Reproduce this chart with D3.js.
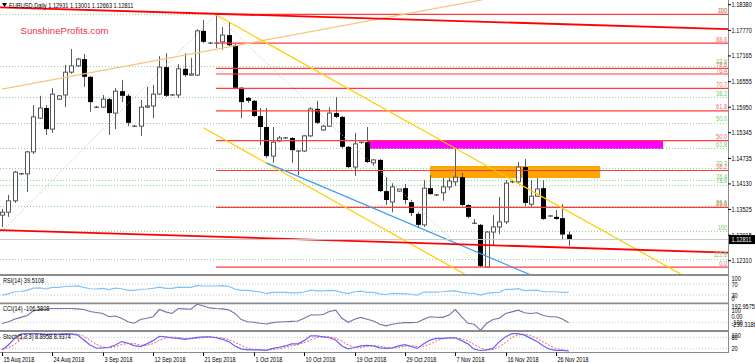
<!DOCTYPE html>
<html>
<head>
<meta charset="utf-8">
<script src="https://cdn.jsdelivr.net/npm/d3@7"></script>
<style>
  body { margin: 0; background: #fff; }
  svg { display: block; font-family: 'Liberation Sans', Arial, sans-serif; }
</style>
</head>
<body>
<svg width="755" height="363"></svg>
<script>
// daily bars, 15 Aug 2018 (bar 0) .. 28 Nov 2018 (bar 90), sunday bars included
const opens = [1.1339,1.1346,1.1373,1.1437,1.1437,1.1489,1.1569,1.1593,1.1543,1.1614,
  1.1624,1.1678,1.1693,1.1709,1.1667,1.1595,1.1595,1.1614,1.1581,1.1633,
  1.1622,1.1550,1.1550,1.1595,1.1598,1.1626,1.1690,1.1624,1.1624,1.1686,
  1.1671,1.1671,1.1776,1.1747,1.1747,1.1750,1.1766,1.1742,1.1641,1.1617,
  1.1610,1.1574,1.1548,1.1479,1.1515,1.1522,1.1522,1.1491,1.1491,1.1527,
  1.1591,1.1541,1.1550,1.1581,1.1572,1.1501,1.1453,1.1510,1.1512,1.1463,
  1.1470,1.1396,1.1370,1.1396,1.1403,1.1370,1.1342,1.1316,1.1403,1.1387,
  1.1392,1.1406,1.1418,1.1429,1.1363,1.1320,1.1316,1.1216,1.1299,1.1311,
  1.1323,1.1418,1.1418,1.1453,1.1365,1.1384,1.1403,1.1337,1.1335,1.1332,1.12931]
const highs = [1.1354,1.1387,1.1444,1.1439,1.1491,1.1600,1.1622,1.1600,1.1640,1.1624,
  1.1695,1.1733,1.1712,1.1721,1.1669,1.1598,1.1624,1.1617,1.1640,1.1659,
  1.1626,1.1553,1.1612,1.1643,1.1648,1.1716,1.1723,1.1626,1.1697,1.1723,
  1.1712,1.1780,1.1802,1.1750,1.1816,1.1785,1.1797,1.1745,1.1643,1.1619,
  1.1612,1.1593,1.1593,1.1548,1.1527,1.1524,1.1524,1.1493,1.1529,1.1595,
  1.1610,1.1553,1.1595,1.1619,1.1574,1.1503,1.1534,1.1512,1.1548,1.1472,
  1.1472,1.1429,1.1415,1.1401,1.1413,1.1375,1.1346,1.1422,1.1434,1.1389,
  1.1427,1.1427,1.1498,1.1439,1.1365,1.1330,1.1318,1.1301,1.1339,1.1382,
  1.1422,1.1420,1.1465,1.1472,1.1422,1.1427,1.1422,1.1339,1.1351,1.1365,1.13001]
const lows = [1.1311,1.1335,1.1368,1.1434,1.1394,1.1484,1.1567,1.1529,1.1534,1.1612,
  1.1595,1.1674,1.1690,1.1643,1.1584,1.1593,1.1593,1.1529,1.1543,1.1607,
  1.1550,1.1548,1.1527,1.1593,1.1569,1.1624,1.1619,1.1622,1.1617,1.1667,
  1.1669,1.1669,1.1747,1.1745,1.1735,1.1731,1.1740,1.1638,1.1569,1.1605,
  1.1572,1.1505,1.1475,1.1463,1.1512,1.1520,1.1463,1.1434,1.1489,1.1524,
  1.1555,1.1539,1.1548,1.1569,1.1498,1.1451,1.1432,1.1508,1.1463,1.1456,
  1.1394,1.1363,1.1346,1.1394,1.1365,1.1337,1.1309,1.1311,1.1387,1.1384,
  1.1373,1.1399,1.1408,1.1361,1.1332,1.1318,1.1216,1.1215,1.1268,1.1294,
  1.1318,1.1415,1.1415,1.1361,1.1358,1.1382,1.1328,1.1335,1.1328,1.1280,1.12663]
const closes = [1.1346,1.1373,1.1441,1.1437,1.1489,1.1572,1.1593,1.1543,1.1626,1.1622,
  1.1678,1.1693,1.1709,1.1667,1.1607,1.1595,1.1614,1.1581,1.1633,1.1622,
  1.1558,1.1550,1.1595,1.1598,1.1626,1.1690,1.1622,1.1624,1.1686,1.1671,
  1.1674,1.1776,1.1750,1.1747,1.1745,1.1766,1.1742,1.1641,1.1607,1.1610,
  1.1574,1.1548,1.1479,1.1512,1.1522,1.1522,1.1493,1.1490,1.1527,1.1591,
  1.1558,1.1550,1.1581,1.1572,1.1501,1.1453,1.1508,1.1512,1.1465,1.1470,
  1.1396,1.1375,1.1406,1.1401,1.1375,1.1344,1.1316,1.1403,1.1389,1.1387,
  1.1406,1.1420,1.1429,1.1363,1.1335,1.1320,1.1218,1.1299,1.1311,1.1323,
  1.1415,1.1418,1.1453,1.1368,1.1384,1.1401,1.1330,1.1337,1.1330,1.1293,1.12811]

const rsiValues = [30,34,42,43,48,55,56,52,58,58,61,62,63,58,53,52,54,50,55,53,
  47,47,51,52,54,59,54,54,59,58,58,65,63,63,63,64,62,52,47,47,
  44,41,35,40,40,40,38,38,41,48,45,45,47,46,40,35,42,44,40,40,
  34,32,36,35,34,33,30,41,41,41,42,44,45,40,37,36,30,36,39,40,
  51,51,53,46,47,48,42,42,42,40,39.5108]
const cciValues = [-120,-90,-50,-20,10,86,108,113,124,124,124,124,118,108,75,60,44,-9,2,-35,
  -90,-116,-55,-35,-9,108,70,44,124,118,113,192.9575,166,134,124,118,102,44,-55,-90,
  -100,-116,-127,-106,-95,-90,-85,-80,-35,18,18,28,75,97,-35,-100,-50,-20,-50,-80,
  -132,-158,-132,-116,-106,-106,-100,-50,-9,-19,-20,18,108,-9,-116,-132,-230.3186,-116,-55,-35,
  44,70,97,55,44,55,10,-9,-9,-47,-106.5808]
const stochMain = [14,40,75,97,100,100,99,95,97,97,99,99,92,66,40,23,25,28,40,58,
  49,37,32,46,63,86,83,78,75,70,75,80,83,83,78,70,58,35,20,14,
  14,14,12,22,28,35,46,46,63,88,88,83,78,66,35,20,27,35,38,35,
  25,22,25,35,42,32,22,46,66,75,75,78,78,63,46,18,11,14,22,58,
  83,100,100,92,75,58,35,18,12,12,8.8958]
const stochSignal = [20,25,43,70,90,99,100,98,97,96,97,98,97,86,66,43,29,25,31,42,
  49,48,39,38,47,65,77,82,79,74,73,75,79,82,81,77,69,54,38,23,
  16,14,13,16,21,28,36,42,52,66,80,86,83,76,60,40,27,27,33,36,
  33,27,24,27,34,36,32,33,45,62,72,76,77,73,62,42,25,14,16,31,
  54,80,94,97,89,75,56,37,22,14,8.9374]

const dateLabels = ['15 Aug 2018','24 Aug 2018','3 Sep 2018','12 Sep 2018','21 Sep 2018','1 Oct 2018',
  '10 Oct 2018','19 Oct 2018','29 Oct 2018','7 Nov 2018','16 Nov 2018','26 Nov 2018']
const dateBars = [0,8,16,24,32,40,48,56,64,72,80,88]
const priceTicks = [1.18380,1.17770,1.17165,1.16555,1.15950,1.15345,1.14735,1.14130,1.13525,1.12915,1.12310]

const redFibLevels = [0,23.6,38.2,50,61.8,70.7,76.4,78.6,88.6,100]
const greenFibLevels = [0,23.6,38.2,50,61.8,70.7,76.4,78.6,88.6,100,112.8]

const svg = d3.select('svg')
const W = 728

const x = d3.scaleLinear().domain([0, 88]).range([2, 556])
const y = d3.scaleLinear().domain([1.12310, 1.18380]).range([260.7, 4.7])
const yRsi = d3.scaleLinear().domain([0, 100]).range([303.3, 275.8])
const yCci = d3.scaleLinear().domain([-230.3186, 192.9575]).range([330.3, 304.3])
const yStoch = d3.scaleLinear().domain([0, 100]).range([352.6, 333.6])

function narrow(sel, k) {
  sel.each(function () {
    const w = this.getComputedTextLength()
    if (w > 0) d3.select(this).attr('textLength', w * k).attr('lengthAdjust', 'spacingAndGlyphs')
  })
}

const defs = svg.append('defs')
const clips = [['clipMain', 0, 0, W, 274], ['clipRsi', 0, 276, W, 27], ['clipCci', 0, 304, W, 26.5], ['clipSto', 0, 332, W, 20.5]]
clips.forEach(c => defs.append('clipPath').attr('id', c[0]).append('rect')
  .attr('x', c[1]).attr('y', c[2]).attr('width', c[3]).attr('height', c[4]))

const main = svg.append('g').attr('clip-path', 'url(#clipMain)')

// background rectangles
const rects = [
  { b0: 58, b1: 105, p0: 1.1515, p1: 1.1496, color: '#ff00ff' },
  { b0: 68, b1: 95, p0: 1.14555, p1: 1.14271, color: '#ffa500' }
]
main.selectAll('rect.zone').data(rects).join('rect')
  .attr('class', 'zone')
  .attr('x', d => x(d.b0)).attr('width', d => x(d.b1) - x(d.b0))
  .attr('y', d => y(d.p0)).attr('height', d => y(d.p1) - y(d.p0))
  .attr('fill', d => d.color)

// green fibonacci (dotted, full width)
const gHigh = 1.1815, gLow = 1.1301
const gPrice = l => gHigh - l / 100 * (gHigh - gLow)
main.selectAll('line.gfib').data(greenFibLevels).join('line')
  .attr('x1', 0).attr('x2', W)
  .attr('y1', d => Math.round(y(gPrice(d))) + 0.5).attr('y2', d => Math.round(y(gPrice(d))) + 0.5)
  .attr('stroke', '#8fd88f').attr('stroke-dasharray', '1,2')

// red fibonacci
const rHigh = 1.1815, rLow = 1.1216
const rPrice = l => rLow + l / 100 * (rHigh - rLow)
const fibStart = 34

// candles
const bars = d3.range(closes.length).map(i => ({ i, o: opens[i], h: highs[i], l: lows[i], c: closes[i] }))
const cg = main.append('g')
bars.forEach(d => {
  const cx = Math.round(x(d.i)) + 0.5
  cg.append('line').attr('x1', cx).attr('x2', cx).attr('y1', y(d.h)).attr('y2', y(d.l))
    .attr('stroke', '#5a5a5a')
  const top = y(Math.max(d.o, d.c)), bot = y(Math.min(d.o, d.c))
  if (bot - top < 1) {
    cg.append('line').attr('x1', cx - 2.5).attr('x2', cx + 2.5).attr('y1', top).attr('y2', top)
      .attr('stroke', '#333')
  } else if (d.c >= d.o) {
    cg.append('rect').attr('x', cx - 2).attr('width', 4).attr('y', top).attr('height', bot - top)
      .attr('fill', '#fff').attr('stroke', '#555')
  } else {
    cg.append('rect').attr('x', cx - 2.5).attr('width', 5).attr('y', top).attr('height', bot - top)
      .attr('fill', '#000')
  }
})

main.selectAll('line.rfib').data(redFibLevels).join('line')
  .attr('x1', x(fibStart)).attr('x2', W)
  .attr('y1', d => y(rPrice(d))).attr('y2', d => y(rPrice(d)))
  .attr('stroke', '#ff3b3b').attr('stroke-width', 1.2)

// trend lines: [bar, price] pairs, ray extends to the right
function drawLine(a, b, opts) {
  let end = b
  if (opts.ray) {
    const k = (b[1] - a[1]) / (b[0] - a[0])
    end = [140, a[1] + k * (140 - a[0])]
  }
  main.append('line')
    .attr('x1', x(a[0])).attr('y1', y(a[1])).attr('x2', x(end[0])).attr('y2', y(end[1]))
    .attr('stroke', opts.color).attr('stroke-width', opts.width || 1)
    .attr('stroke-dasharray', opts.dash || null)
}
drawLine([0, 1.1301], [34, 1.1814], { color: '#b8b8b8', dash: '1,2' })
drawLine([34, 1.1814], [76, 1.1216], { color: '#b8b8b8', dash: '1,2' })
drawLine([0, 1.1638], [40, 1.1749], { color: '#f8c47e', width: 1.2, ray: true })
drawLine([34, 1.1814], [101, 1.1256], { color: '#ffcc00', width: 1.2, ray: true })
drawLine([32, 1.1546], [68, 1.1245], { color: '#ffcc00', width: 1.2, ray: true })
drawLine([42, 1.1463], [83.4, 1.1201], { color: '#3d9bf0', width: 1.2, ray: true })
drawLine([-1, 1.1832], [116, 1.1780], { color: '#ff0000', width: 1.8 })
drawLine([-1, 1.1304], [116, 1.1250], { color: '#ff0000', width: 1.8 })

// bid line
main.append('line').attr('x1', 0).attr('x2', W)
  .attr('y1', y(closes[closes.length - 1])).attr('y2', y(closes[closes.length - 1]))
  .attr('stroke', '#c8c8c8')

// fib labels
const fibLabels = svg.append('g').attr('font-size', 7).attr('text-anchor', 'end')
fibLabels.selectAll('text.g').data(greenFibLevels).join('text')
  .attr('x', 727).attr('y', d => y(gPrice(d)) - 1.5)
  .attr('fill', '#6fcf6f').text(d => d.toFixed(1).replace(/\.0$/, d === 0 || d === 50 ? '.0' : ''))
  .call(narrow, 0.8)
fibLabels.selectAll('text.r').data(redFibLevels).join('text')
  .attr('x', 727).attr('y', d => y(rPrice(d)) - 1.5)
  .attr('fill', '#f46a6a').text(d => d.toFixed(1).replace(/\.0$/, d === 0 || d === 50 ? '.0' : ''))
  .call(narrow, 0.8)

// texts
svg.append('path').attr('d', 'M2,3 L7,3 L4.5,7 Z').attr('fill', '#000')
svg.append('text').attr('x', 9).attr('y', 8).attr('font-size', 7).attr('fill', '#000')
  .text('EURUSD,Daily  1.12931 1.13001 1.12663 1.12811').call(narrow, 0.8)
svg.append('text').attr('x', 20.5).attr('y', 33.5).attr('font-size', 9.6).attr('fill', '#e8334f')
  .text('SunshineProfits.com')

// indicator panels
const rsiG = svg.append('g').attr('clip-path', 'url(#clipRsi)')
;[70, 30].forEach(v => rsiG.append('line').attr('x1', 0).attr('x2', W)
  .attr('y1', yRsi(v)).attr('y2', yRsi(v)).attr('stroke', '#c8c8c8').attr('stroke-dasharray', '1,2'))
rsiG.append('path').datum(rsiValues)
  .attr('d', d3.line().x((d, i) => x(i)).y(d => yRsi(d)))
  .attr('fill', 'none').attr('stroke', '#84c1f5').attr('stroke-width', 1.2)

const cciG = svg.append('g').attr('clip-path', 'url(#clipCci)')
;[100, -100].forEach(v => cciG.append('line').attr('x1', 0).attr('x2', W)
  .attr('y1', yCci(v)).attr('y2', yCci(v)).attr('stroke', '#c8c8c8').attr('stroke-dasharray', '1,2'))
cciG.append('path').datum(cciValues)
  .attr('d', d3.line().x((d, i) => x(i)).y(d => yCci(d)))
  .attr('fill', 'none').attr('stroke', '#7474a8').attr('stroke-width', 1.1)

const stoG = svg.append('g').attr('clip-path', 'url(#clipSto)')
;[80, 20].forEach(v => stoG.append('line').attr('x1', 0).attr('x2', W)
  .attr('y1', yStoch(v)).attr('y2', yStoch(v)).attr('stroke', '#c8c8c8').attr('stroke-dasharray', '1,2'))
stoG.append('path').datum(stochSignal)
  .attr('d', d3.line().x((d, i) => x(i)).y(d => yStoch(d)))
  .attr('fill', 'none').attr('stroke', '#ff5a5a').attr('stroke-dasharray', '2,1.5')
stoG.append('path').datum(stochMain)
  .attr('d', d3.line().x((d, i) => x(i)).y(d => yStoch(d)))
  .attr('fill', 'none').attr('stroke', '#6464ff').attr('stroke-width', 1.2)

const indLabels = [
  ['RSI(14) 39.5108', 283],
  ['CCI(14) -106.5808', 311],
  ['Stoch(5,3,3) 8.8958 8.9374', 338.5]
]
indLabels.forEach(t => svg.append('text').attr('x', 3).attr('y', t[1]).attr('font-size', 7)
  .attr('fill', '#000').text(t[0]).call(narrow, 0.8))

// frames
const frame = svg.append('g').attr('stroke', '#8c8c8c')
;[275, 303.3, 331].forEach(v => frame.append('line').attr('x1', 0).attr('x2', W)
  .attr('y1', v).attr('y2', v).attr('stroke-width', 1.8))
frame.append('line').attr('x1', 0).attr('x2', W).attr('y1', 352.5).attr('y2', 352.5)
frame.append('line').attr('x1', W + 0.5).attr('x2', W + 0.5).attr('y1', 0).attr('y2', 353)

// right axis
const axisG = svg.append('g').attr('font-size', 7).attr('fill', '#000')
priceTicks.forEach(p => {
  axisG.append('line').attr('x1', W).attr('x2', W + 3).attr('y1', y(p)).attr('y2', y(p)).attr('stroke', '#000')
  axisG.append('text').attr('x', W + 3.5).attr('y', y(p) + 2.5).text(p.toFixed(5)).call(narrow, 0.8)
})
function sideLabel(txt, yy) {
  axisG.append('text').attr('x', W + 3.5).attr('y', yy + 2.5).text(txt).call(narrow, 0.8)
}
const clampIn = (v, a, b) => Math.max(a, Math.min(b, v))
;[100, 70, 30, 0].forEach(v => sideLabel(String(v), clampIn(yRsi(v), 278.5, 298.5)))
;[[192.9575, '192.9575'], [100, '100'], [0, '0.00'], [-100, '-100'], [-230.3186, '-230.3186']]
  .forEach(v => sideLabel(v[1], clampIn(yCci(v[0]), 306.5, 324)))
;[100, 80, 20].forEach(v => sideLabel(String(v), clampIn(yStoch(v), 335.5, 350)))

// current price box
const last = closes[closes.length - 1]
svg.append('rect').attr('x', W + 1).attr('y', y(last) - 4.5).attr('width', 27).attr('height', 9).attr('fill', '#000')
svg.append('text').attr('x', W + 3.5).attr('y', y(last) + 2.5).attr('font-size', 7).attr('fill', '#fff')
  .text(last.toFixed(5)).call(narrow, 0.8)

// date axis
const dg = svg.append('g').attr('font-size', 7).attr('fill', '#000')
dateBars.forEach((b, k) => {
  const tx = Math.round(x(b)) + 0.5
  dg.append('line').attr('x1', tx).attr('x2', tx).attr('y1', 352.5).attr('y2', 356).attr('stroke', '#000')
  dg.append('text').attr('x', tx + 1).attr('y', 361.5).text(dateLabels[k]).call(narrow, 0.78)
})
</script>
</body>
</html>
